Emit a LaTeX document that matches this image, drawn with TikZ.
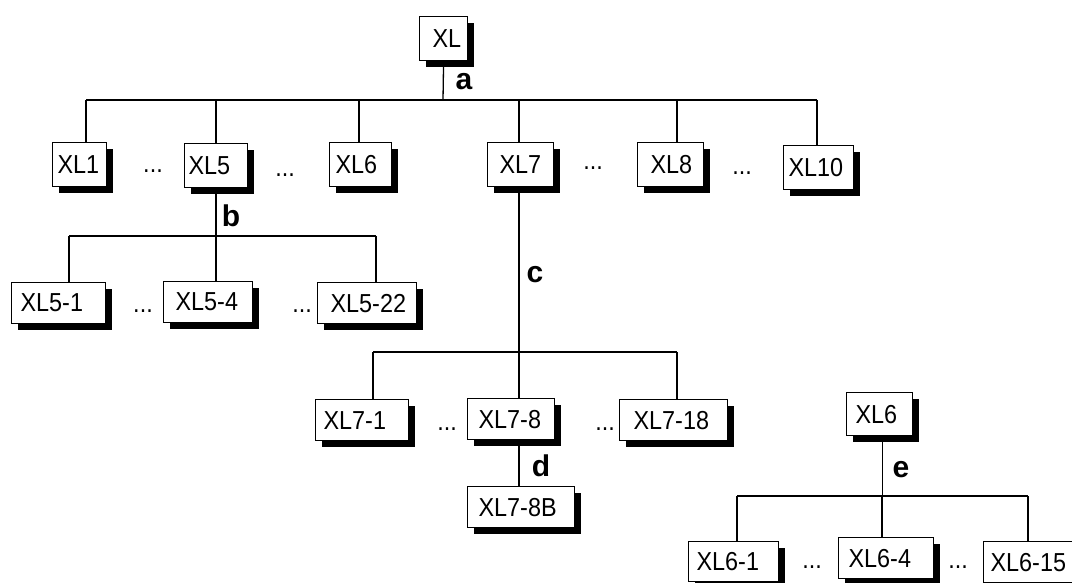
\documentclass[tikz,border=0pt]{standalone}
\usepackage{fontspec}
\setmainfont{Liberation Sans}
\newfontfamily\boxfont[FakeStretch=0.9]{Liberation Sans}
\usetikzlibrary{shadows}
\begin{document}
\begin{tikzpicture}[x=1pt,y=-1pt,
  wire/.style={line width=1.3pt},
  thinwire/.style={line width=0.9pt},
  box/.style n args={2}{draw, line width=1.2pt, fill=white, anchor=north west,
    inner xsep=0pt, inner ysep=0pt, text width=#1, minimum height=#2, align=left,
    font=\boxfont\fontsize{26}{28}\selectfont,
    general shadow={fill=black, shadow xshift=6pt, shadow yshift=-6pt}},
  dots/.style={anchor=base, inner sep=0pt, font=\boxfont\fontsize{26}{28}\selectfont},
  lab/.style={anchor=base, inner sep=0pt, font=\fontsize{30}{32}\selectfont\bfseries}]
\useasboundingbox (0,0) rectangle (1072,583);

% boxes: top-left corner, width, height; text offset by a small left pad
\node[box={48pt}{44pt}] (r)   at (419,16)  {\hspace*{13pt}XL};
\node[box={54pt}{44pt}] (n1)  at (52,142)  {\hspace*{5pt}XL1};
\node[box={63pt}{44pt}] (n5)  at (184,143) {\hspace*{4pt}XL5};
\node[box={62pt}{44pt}] (n6)  at (329,142) {\hspace*{6pt}XL6};
\node[box={66pt}{44pt}] (n7)  at (487,142) {\hspace*{12pt}XL7};
\node[box={66pt}{44pt}] (n8)  at (637,142) {\hspace*{13pt}XL8};
\node[box={70pt}{44pt}] (n10) at (783,145) {\hspace*{5pt}XL10};

\node[box={94pt}{41pt}]  (n51)  at (11,282)  {\hspace*{9pt}XL5-1};
\node[box={89pt}{41pt}]  (n54)  at (163,281) {\hspace*{12pt}XL5-4};
\node[box={99pt}{41pt}]  (n522) at (317,282) {\hspace*{13pt}XL5-22};

\node[box={93pt}{41pt}]  (n71)  at (315,399) {\hspace*{8pt}XL7-1};
\node[box={87pt}{41pt}]  (n78)  at (467,398) {\hspace*{11pt}XL7-8};
\node[box={108pt}{41pt}] (n718) at (619,399) {\hspace*{14pt}XL7-18};
\node[box={107pt}{41pt}] (n78b) at (467,486) {\hspace*{11pt}XL7-8B};

\node[box={66pt}{43pt}]  (m6)   at (846,392) {\hspace*{9pt}XL6};
\node[box={90pt}{40pt}]  (m61)  at (688,541) {\hspace*{8pt}XL6-1};
\node[box={95pt}{41pt}]  (m64)  at (838,537) {\hspace*{10pt}XL6-4};
\node[box={92pt}{41pt}]  (m615) at (983,541) {\hspace*{7pt}XL6-15};

% ellipses between siblings
\node[dots] (d1)  at (153,173) {...};
\node[dots] (d2)  at (285,177) {...};
\node[dots] (d3)  at (593,170) {...};
\node[dots] (d4)  at (742,175) {...};
\node[dots] (d5)  at (143,312) {...};
\node[dots] (d6)  at (302,312) {...};
\node[dots] (d7)  at (447,430) {...};
\node[dots] (d8)  at (605,430) {...};
\node[dots] (d9)  at (812,568) {...};
\node[dots] (d10) at (958,568) {...};

% branch labels
\node[lab] (la) at (464,90)  {a};
\node[lab] (lb) at (231,226) {b};
\node[lab] (lc) at (535,282) {c};
\node[lab] (ld) at (541,476) {d};
\node[lab] (le) at (901,477) {e};

% junction points of the buses
\coordinate (a0) at (443,100);
\coordinate (a1) at (86,100);
\coordinate (a2) at (216,100);
\coordinate (a3) at (359,100);
\coordinate (a4) at (519,100);
\coordinate (a5) at (677,100);
\coordinate (a6) at (817,100);

\coordinate (b0) at (216,236);
\coordinate (b1) at (69,236);
\coordinate (b2) at (376,236);

\coordinate (c0) at (519,352);
\coordinate (c1) at (373,352);
\coordinate (c2) at (677,352);

\coordinate (e0) at (882,496);
\coordinate (e1) at (737,496);
\coordinate (e2) at (1028,496);

% level a
\draw[wire] (r.south) -- (a0);
\draw[wire] (a1) -- (a6);
\draw[wire] (a1) -- (a1 |- n1.north);
\draw[wire] (a2) -- (a2 |- n5.north);
\draw[wire] (a3) -- (a3 |- n6.north);
\draw[wire] (a4) -- (a4 |- n7.north);
\draw[wire] (a5) -- (a5 |- n8.north);
\draw[wire] (a6) -- (a6 |- n10.north);

% level b
\draw[wire] (b0 |- n5.south) -- (b0 |- n54.north);
\draw[wire] (b1) -- (b2);
\draw[wire] (b1) -- (b1 |- n51.north);
\draw[wire] (b2) -- (b2 |- n522.north);

% level c
\draw[wire] (c0 |- n7.south) -- (c0 |- n78.north);
\draw[wire] (c1) -- (c2);
\draw[wire] (c1) -- (c1 |- n71.north);
\draw[wire] (c2) -- (c2 |- n718.north);

% level d
\draw[wire] (c0 |- n78.south) -- (c0 |- n78b.north);

% level e
\draw[thinwire] (e0 |- m6.south) -- (e0);
\draw[wire] (e1) -- (e2);
\draw[wire] (e0) -- (e0 |- m64.north);
\draw[wire] (e1) -- (e1 |- m61.north);
\draw[wire] (e2) -- (e2 |- m615.north);
\end{tikzpicture}
\end{document}
